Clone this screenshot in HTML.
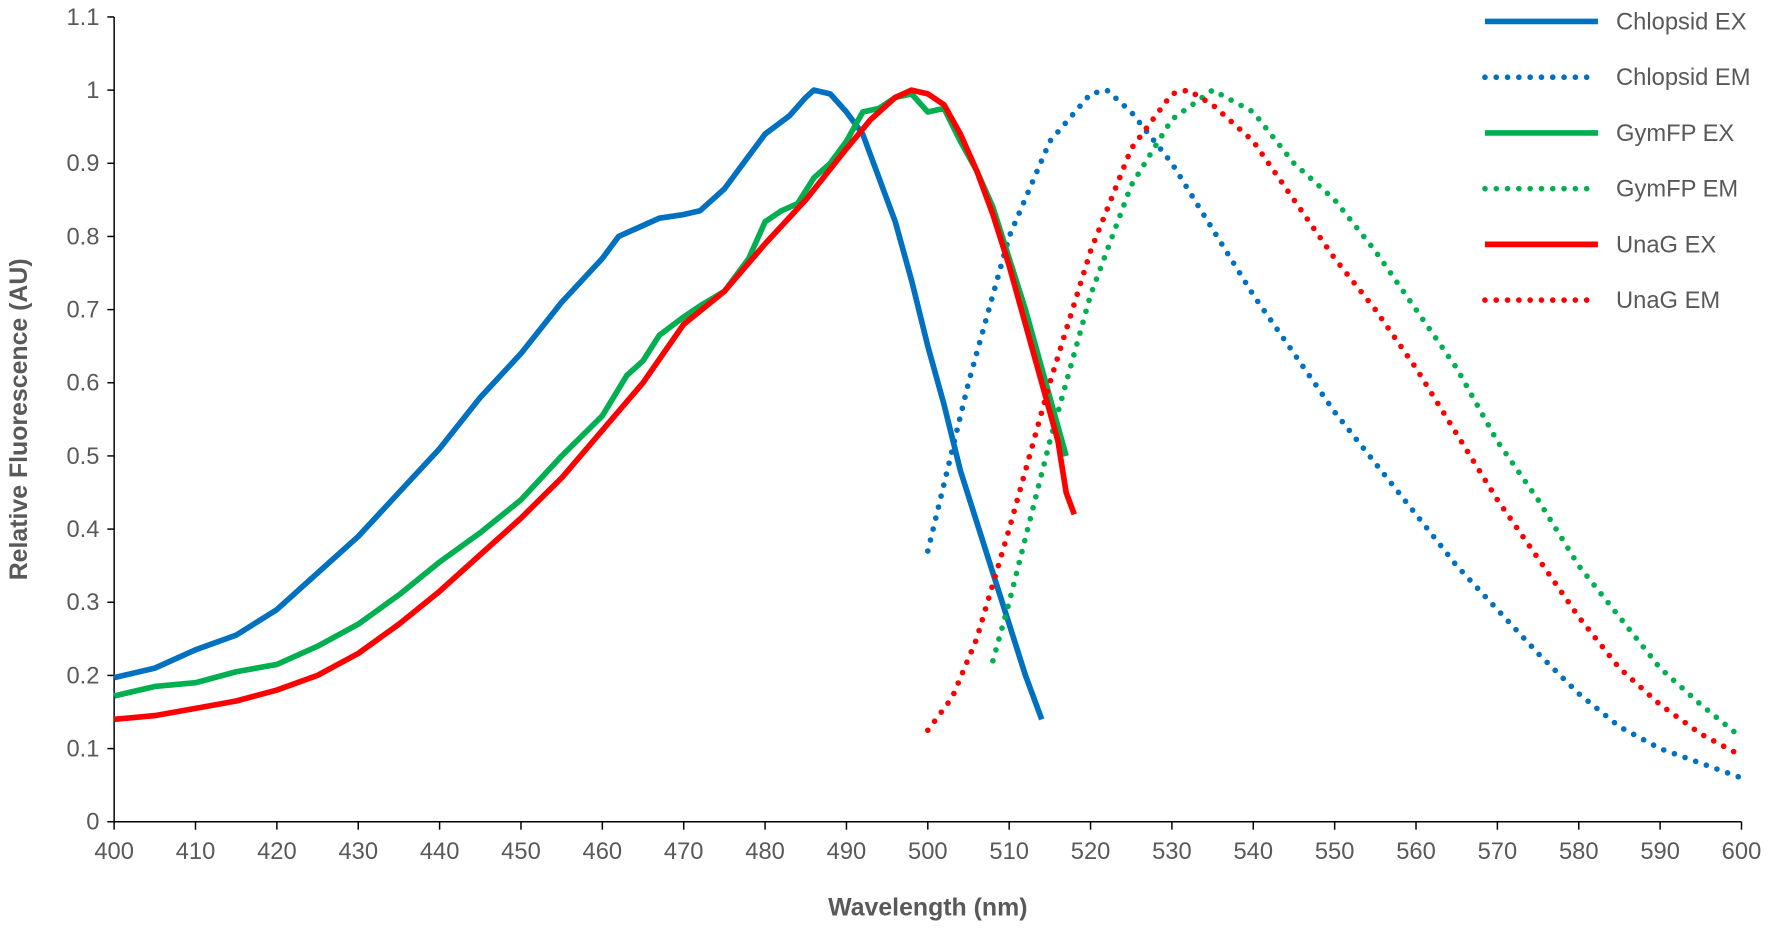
<!DOCTYPE html>
<html><head><meta charset="utf-8">
<style>
html,body{margin:0;padding:0;background:#fff;}
svg{display:block;font-family:"Liberation Sans",Arial,sans-serif;}
</style></head>
<body>
<svg id="chart" width="1772" height="928" viewBox="0 0 1568 821" preserveAspectRatio="none">
<g id="axes"></g>
<g id="series"></g>
<g id="legend"></g>
<text x="24" y="371" transform="rotate(-90 24 371)" text-anchor="middle" font-size="22" font-weight="bold" fill="#595959">Relative Fluorescence (AU)</text>
<text x="821" y="810" text-anchor="middle" font-size="22" font-weight="bold" fill="#595959">Wavelength (nm)</text>
</svg>
<script>
const xTicks=[400,410,420,430,440,450,460,470,480,490,500,510,520,530,540,550,560,570,580,590,600];
const yTicks=[0,0.1,0.2,0.3,0.4,0.5,0.6,0.7,0.8,0.9,1,1.1];
const yTickLabels=["0","0.1","0.2","0.3","0.4","0.5","0.6","0.7","0.8","0.9","1","1.1"];
const seriesNames=["Chlopsid EX","Chlopsid EM","GymFP EX","GymFP EM","UnaG EX","UnaG EM"];
const seriesColors=["#0070C0","#0070C0","#00B050","#00B050","#FF0000","#FF0000"];
const seriesDotted=[false,true,false,true,false,true];
const chlEXx=[400,405,410,415,420,425,430,435,440,445,450,455,460,462,465,467,470,472,475,478,480,483,485,486,488,490,492,494,496,498,500,502,504,506,508,510,512,514];
const chlEXy=[0.197,0.21,0.235,0.255,0.29,0.34,0.39,0.45,0.51,0.58,0.64,0.71,0.77,0.80,0.815,0.825,0.83,0.835,0.865,0.91,0.94,0.965,0.99,1.0,0.995,0.97,0.94,0.88,0.82,0.74,0.65,0.57,0.48,0.41,0.34,0.27,0.2,0.14];
const chlEMx=[500,505,510,515,520,522,525,530,535,540,545,550,555,560,565,570,575,580,585,590,595,600];
const chlEMy=[0.37,0.6,0.8,0.93,0.995,1.0,0.97,0.9,0.81,0.72,0.64,0.56,0.49,0.42,0.35,0.29,0.23,0.175,0.13,0.1,0.08,0.06];
const gymEXx=[400,405,410,415,420,425,430,435,440,445,450,455,460,463,465,467,470,472,475,478,480,482,484,486,488,490,492,494,496,498,500,502,504,506,508,510,512,514,516,517];
const gymEXy=[0.172,0.185,0.19,0.205,0.215,0.24,0.27,0.31,0.355,0.395,0.44,0.5,0.555,0.61,0.63,0.665,0.69,0.705,0.725,0.77,0.82,0.835,0.845,0.88,0.9,0.93,0.97,0.975,0.99,0.995,0.97,0.975,0.93,0.89,0.84,0.77,0.7,0.62,0.54,0.5];
const gymEMx=[508,510,515,520,525,530,535,540,545,550,555,560,565,570,575,580,585,590,595,600];
const gymEMy=[0.22,0.3,0.52,0.72,0.87,0.96,1.0,0.97,0.9,0.85,0.78,0.7,0.62,0.52,0.44,0.35,0.28,0.21,0.16,0.115];
const unaEXx=[400,405,410,415,420,425,430,435,440,445,450,455,460,465,470,475,480,485,490,493,496,498,500,502,504,506,508,510,512,514,516,517,518];
const unaEXy=[0.14,0.145,0.155,0.165,0.18,0.2,0.23,0.27,0.315,0.365,0.415,0.47,0.535,0.6,0.68,0.725,0.79,0.85,0.92,0.96,0.99,1.0,0.995,0.98,0.94,0.89,0.83,0.76,0.68,0.6,0.52,0.45,0.42];
const unaEMx=[500,503,506,510,515,520,525,530,532,535,540,545,550,555,560,565,570,575,580,585,590,595,600];
const unaEMy=[0.125,0.17,0.25,0.4,0.6,0.78,0.92,0.995,1.0,0.98,0.93,0.85,0.77,0.7,0.62,0.53,0.44,0.36,0.28,0.21,0.16,0.12,0.09];
const seriesX=[chlEXx,chlEMx,gymEXx,gymEMx,unaEXx,unaEMx];
const seriesY=[chlEXy,chlEMy,gymEXy,gymEMy,unaEXy,unaEMy];

const NS="http://www.w3.org/2000/svg";
const X0=101,X1=1541,Y0=727,Y1=15;
function sx(v){return X0+(v-400)/200*(X1-X0);}
function sy(v){return Y0-v/1.1*(Y0-Y1);}
function mk(tag,attrs,parent){const e=document.createElementNS(NS,tag);for(const k in attrs)e.setAttribute(k,attrs[k]);parent.appendChild(e);return e;}
const axes=document.getElementById('axes');
let e=mk('line',{x1:X0,y1:Y1,x2:X0,y2:Y0,stroke:'#000','stroke-width':1.3},axes);


e=mk('line',{x1:X0,y1:Y0,x2:X1,y2:Y0,stroke:'#000','stroke-width':1.3},axes);


yTicks.forEach((v,i)=>{
 const t=mk('line',{x1:X0-6,y1:sy(v),x2:X0,y2:sy(v),stroke:'#000','stroke-width':1.3},axes);
 
 
 const l=mk('text',{x:X0-13,y:sy(v)+7,'text-anchor':'end','font-size':21,fill:'#595959'},axes);
 l.textContent=yTickLabels[i];
 
 
});
xTicks.forEach(v=>{
 const t=mk('line',{x1:sx(v),y1:Y0,x2:sx(v),y2:Y0+7,stroke:'#000','stroke-width':1.3},axes);
 
 
 const l=mk('text',{x:sx(v),y:Y0+33,'text-anchor':'middle','font-size':21,fill:'#595959'},axes);
 l.textContent=String(v);
 
 
});
const ser=document.getElementById('series');
const leg=document.getElementById('legend');
function style(p,i){
 p.setAttribute('fill','none');p.setAttribute('stroke',seriesColors[i]);
 p.setAttribute('stroke-width',5);p.setAttribute('stroke-linejoin','round');
 if(seriesDotted[i]){p.setAttribute('stroke-dasharray','0 10');p.setAttribute('stroke-linecap','round');}
}
seriesNames.forEach((n,i)=>{
 const d=seriesX[i].map((x,j)=>(j?'L':'M')+sx(x).toFixed(1)+' '+sy(seriesY[i][j]).toFixed(1)).join(' ');
 const p=mk('path',{d:d},ser);style(p,i);
 
 
 const ly=19+i*49.3;
 const g=mk('g',{},leg);
 
 
 const ll=mk('path',{d:`M1314 ${ly} L1414 ${ly}`},g);style(ll,i);
 const lt=mk('text',{x:1430,y:ly+7,'font-size':21,fill:'#595959'},g);
 lt.textContent=n;
});
</script>
</body></html>
